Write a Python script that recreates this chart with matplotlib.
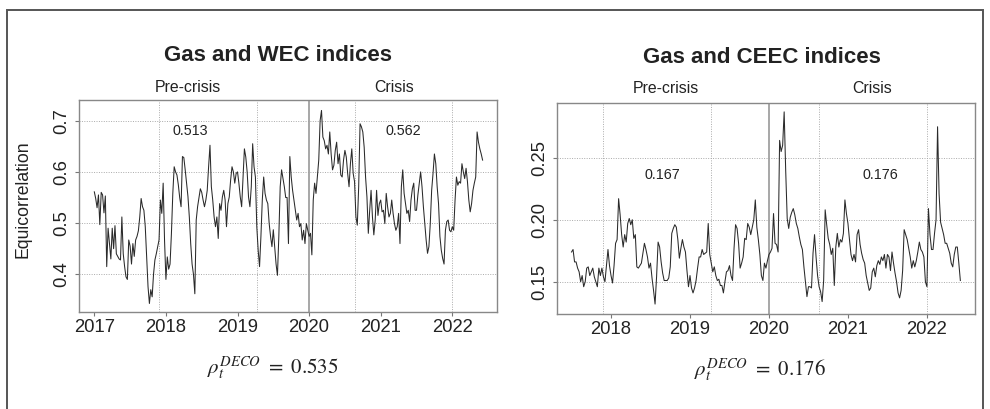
import numpy as np
import matplotlib
matplotlib.use("Agg")
import matplotlib.pyplot as plt
from matplotlib.patches import Rectangle
import matplotlib.transforms as mtransforms

plt.rcParams['font.family'] = ['Liberation Sans', 'DejaVu Sans']
plt.rcParams['mathtext.fontset'] = 'stix'

# weekly equicorrelation, Gas + WEC indices (starts 2017.0)
wec_start = 2017.0
wec = [0.561, 0.548, 0.530, 0.555, 0.497, 0.560, 0.555, 0.520, 0.553, 0.415,
       0.490, 0.460, 0.430, 0.490, 0.450, 0.495, 0.440, 0.435, 0.430, 0.428,
       0.512, 0.440, 0.415, 0.395, 0.390, 0.467, 0.455, 0.420, 0.460, 0.435,
       0.467, 0.474, 0.485, 0.512, 0.548, 0.532, 0.525, 0.493, 0.435, 0.376,
       0.343, 0.370, 0.356, 0.400, 0.428, 0.440, 0.453, 0.467, 0.545, 0.519,
       0.578, 0.466, 0.390, 0.434, 0.410, 0.420, 0.480, 0.558, 0.610, 0.600,
       0.594, 0.575, 0.550, 0.532, 0.630, 0.628, 0.604, 0.578, 0.552, 0.512,
       0.460, 0.420, 0.400, 0.362, 0.506, 0.532, 0.550, 0.567, 0.560, 0.545,
       0.532, 0.545, 0.564, 0.610, 0.652, 0.571, 0.545, 0.512, 0.493, 0.512,
       0.470, 0.538, 0.525, 0.551, 0.564, 0.545, 0.493, 0.538, 0.551, 0.584,
       0.610, 0.600, 0.578, 0.597, 0.600, 0.578, 0.551, 0.532, 0.590, 0.645,
       0.629, 0.600, 0.551, 0.532, 0.571, 0.655, 0.610, 0.590, 0.493, 0.447,
       0.415, 0.474, 0.545, 0.590, 0.558, 0.545, 0.538, 0.499, 0.474, 0.454,
       0.487, 0.454, 0.420, 0.398, 0.474, 0.571, 0.604, 0.587, 0.571, 0.550,
       0.550, 0.460, 0.630, 0.590, 0.564, 0.545, 0.525, 0.506, 0.519, 0.493,
       0.499, 0.467, 0.486, 0.460, 0.499, 0.486, 0.474, 0.480, 0.438, 0.545,
       0.578, 0.558, 0.590, 0.623, 0.700, 0.720, 0.668, 0.661, 0.645, 0.652,
       0.635, 0.678, 0.635, 0.604, 0.613, 0.642, 0.658, 0.616, 0.635, 0.594,
       0.590, 0.623, 0.642, 0.629, 0.597, 0.571, 0.616, 0.645, 0.597, 0.581,
       0.512, 0.496, 0.571, 0.694, 0.688, 0.678, 0.648, 0.590, 0.551, 0.480,
       0.525, 0.564, 0.512, 0.477, 0.506, 0.564, 0.515, 0.538, 0.545, 0.522,
       0.525, 0.499, 0.558, 0.532, 0.512, 0.519, 0.545, 0.519, 0.499, 0.486,
       0.493, 0.519, 0.460, 0.571, 0.604, 0.558, 0.538, 0.519, 0.525, 0.503,
       0.545, 0.567, 0.578, 0.525, 0.525, 0.555, 0.578, 0.600, 0.571, 0.532,
       0.499, 0.467, 0.441, 0.454, 0.499, 0.564, 0.597, 0.635, 0.616, 0.571,
       0.538, 0.474, 0.447, 0.431, 0.420, 0.486, 0.503, 0.506, 0.486, 0.483,
       0.493, 0.486, 0.545, 0.590, 0.574, 0.581, 0.578, 0.616, 0.600, 0.587,
       0.607, 0.581, 0.545, 0.522, 0.538, 0.564, 0.578, 0.590, 0.678, 0.658,
       0.645, 0.635, 0.623]

# weekly equicorrelation, Gas + CEEC indices (starts mid 2017)
ceec_start = 2017.5
ceec = [0.174, 0.176, 0.166, 0.166, 0.161, 0.158, 0.150, 0.155, 0.146, 0.150,
        0.161, 0.162, 0.155, 0.158, 0.161, 0.154, 0.150, 0.146, 0.161, 0.155,
        0.161, 0.154, 0.150, 0.163, 0.176, 0.163, 0.155, 0.149, 0.163, 0.181,
        0.184, 0.217, 0.204, 0.188, 0.178, 0.188, 0.182, 0.197, 0.201, 0.196,
        0.200, 0.185, 0.188, 0.162, 0.161, 0.163, 0.165, 0.173, 0.181, 0.176,
        0.170, 0.161, 0.165, 0.153, 0.143, 0.132, 0.154, 0.182, 0.178, 0.166,
        0.157, 0.151, 0.151, 0.151, 0.153, 0.162, 0.189, 0.193, 0.196, 0.194,
        0.184, 0.169, 0.177, 0.184, 0.178, 0.174, 0.159, 0.146, 0.155, 0.145,
        0.141, 0.145, 0.151, 0.161, 0.170, 0.170, 0.176, 0.172, 0.173, 0.174,
        0.197, 0.172, 0.165, 0.158, 0.162, 0.155, 0.151, 0.152, 0.147, 0.147,
        0.141, 0.150, 0.158, 0.159, 0.163, 0.155, 0.151, 0.177, 0.196, 0.193,
        0.181, 0.161, 0.165, 0.170, 0.185, 0.184, 0.197, 0.194, 0.188, 0.194,
        0.200, 0.216, 0.194, 0.184, 0.172, 0.155, 0.151, 0.165, 0.161, 0.167,
        0.172, 0.174, 0.177, 0.205, 0.181, 0.180, 0.174, 0.264, 0.255, 0.260,
        0.287, 0.240, 0.201, 0.193, 0.202, 0.206, 0.209, 0.204, 0.197, 0.193,
        0.186, 0.180, 0.176, 0.162, 0.150, 0.138, 0.146, 0.146, 0.145, 0.173,
        0.188, 0.170, 0.155, 0.146, 0.142, 0.134, 0.151, 0.208, 0.196, 0.185,
        0.180, 0.172, 0.177, 0.147, 0.178, 0.189, 0.178, 0.184, 0.182, 0.189,
        0.216, 0.205, 0.197, 0.184, 0.172, 0.167, 0.172, 0.166, 0.188, 0.192,
        0.180, 0.173, 0.168, 0.165, 0.155, 0.149, 0.143, 0.145, 0.158, 0.161,
        0.154, 0.163, 0.167, 0.164, 0.170, 0.167, 0.172, 0.161, 0.172, 0.170,
        0.159, 0.174, 0.165, 0.157, 0.150, 0.141, 0.137, 0.143, 0.159, 0.192,
        0.188, 0.184, 0.177, 0.170, 0.161, 0.167, 0.162, 0.167, 0.174, 0.182,
        0.176, 0.174, 0.170, 0.150, 0.146, 0.209, 0.188, 0.176, 0.176, 0.189,
        0.200, 0.275, 0.221, 0.198, 0.193, 0.188, 0.181, 0.181, 0.177, 0.173,
        0.165, 0.162, 0.172, 0.178, 0.178, 0.165, 0.151]

# sub-period means and full-sample DECO
wec_means = ["0.513", "0.562"]
ceec_means = ["0.167", "0.176"]
deco = ["0.535", "0.176"]
titles = ["Gas and WEC indices", "Gas and CEEC indices"]

crisis_start = 2020.0
vgrid = [2017.9, 2019.27, 2020.635, 2022.0]

t_wec = wec_start + np.arange(len(wec)) / 52.0
t_ceec = ceec_start + np.arange(len(ceec)) / 52.0

fig = plt.figure(figsize=(9.9, 4.09), dpi=100)
fig.patches.append(Rectangle((0.007, -0.02), 0.9864, 0.996, transform=fig.transFigure,
                             fill=False, edgecolor='#555555', linewidth=1.4))

ax1 = fig.add_axes([0.0798, 0.2372, 0.4222, 0.5183])
ax2 = fig.add_axes([0.5623, 0.2323, 0.4225, 0.5166])

panels = [
    (ax1, t_wec, wec, (2016.786, 2022.624), (0.3264, 0.7404),
     [0.4, 0.5, 0.6, 0.7], ["0.4", "0.5", "0.6", "0.7"], [2017, 2018, 2019, 2020, 2021, 2022],
     wec_means, (2018.34, 2021.31), 0.68, (2018.31, 2021.19), 1.061),
    (ax2, t_ceec, ceec, (2017.312, 2022.608), (0.124, 0.2944),
     [0.15, 0.20, 0.25], ["0.15", "0.20", "0.25"], [2018, 2019, 2020, 2021, 2022],
     ceec_means, (2018.65, 2021.41), 0.236, (2018.69, 2021.30), 1.065),
]

for ax, t, y, xl, yl, yt, ytl, xt, means, mx, my, px, py in panels:
    for v in yt:
        ax.axhline(v, color='#aaaaaa', linestyle=(0, (1, 1.5)), linewidth=0.7, zorder=1)
    for v in vgrid:
        ax.axvline(v, color='#aaaaaa', linestyle=(0, (1, 1.5)), linewidth=0.7, zorder=1)
    ax.axvline(crisis_start, color='#a0a0a0', linewidth=1.3, zorder=2)
    ax.plot(t, y, color='#2a2a2a', linewidth=0.75, zorder=3)

    ax.set_xlim(*xl)
    ax.set_ylim(*yl)
    ax.set_xticks(xt)
    ax.set_xticklabels([str(v) for v in xt])
    ax.set_yticks(yt)
    ax.set_yticklabels(ytl, rotation=90, va='center')
    ax.tick_params(axis='both', direction='out', length=3, width=0.8, color='#777777',
                   labelsize=13.3, labelcolor='#222222')
    ax.tick_params(axis='x', pad=2)
    ax.tick_params(axis='y', pad=3)
    for s in ax.spines.values():
        s.set_color('#888888')
        s.set_linewidth(1.0)

    ax.text(mx[0], my, means[0], fontsize=10.3, color='#222222', ha='center', va='center')
    ax.text(mx[1], my, means[1], fontsize=10.3, color='#222222', ha='center', va='center')

    trans = mtransforms.blended_transform_factory(ax.transData, ax.transAxes)
    ax.text(px[0], py, "Pre-crisis", transform=trans, fontsize=11.4, color='#222222',
            ha='center', va='center')
    ax.text(px[1], py, "Crisis", transform=trans, fontsize=11.4, color='#222222',
            ha='center', va='center')

fig.text(0.2808, 0.8655, titles[0], fontsize=16, fontweight='bold', color='#222222',
         ha='center', va='center')
fig.text(0.7694, 0.8606, titles[1], fontsize=16, fontweight='bold', color='#222222',
         ha='center', va='center')

ax1.set_ylabel("Equicorrelation", fontsize=12.7, color='#222222')
ax1.yaxis.set_label_coords(-0.113, 0.53)

fig.text(0.2758, 0.1002, r'$\rho_t^{DECO}\ =\ ' + deco[0] + r'$', fontsize=15,
         color='#222222', ha='center', va='center')
fig.text(0.7677, 0.0954, r'$\rho_t^{DECO}\ =\ ' + deco[1] + r'$', fontsize=15,
         color='#222222', ha='center', va='center')

fig.savefig("out.png", dpi=100)
